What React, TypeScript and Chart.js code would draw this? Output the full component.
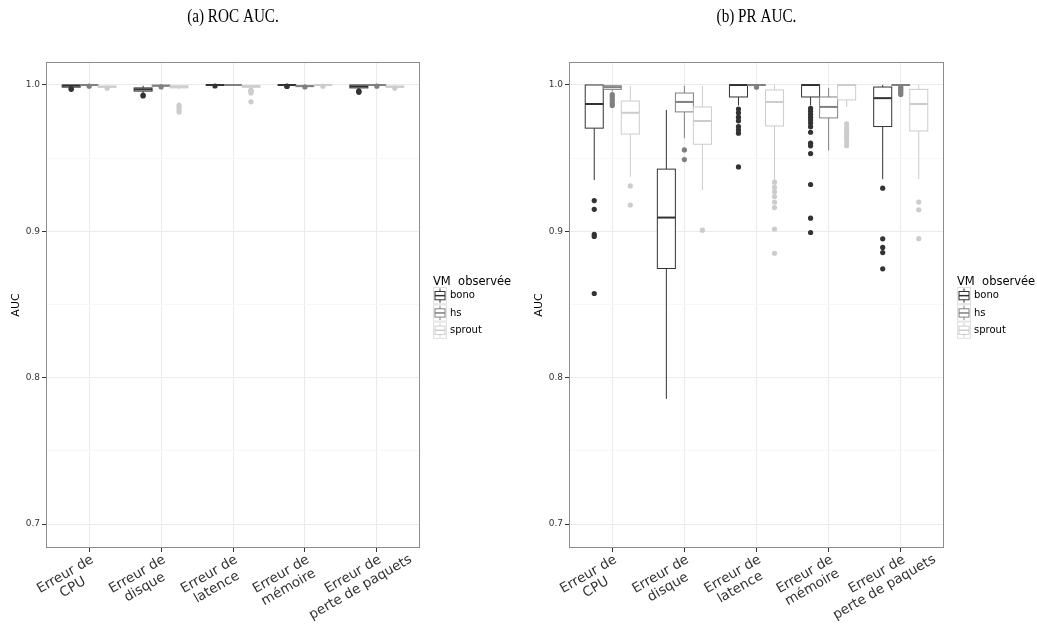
import React, { useEffect, useRef } from "react";
import { Chart, registerables } from "chart.js";
Chart.register(...registerables);

// ---------- data ----------
const categories: string[][] = [
  ["Erreur de", "CPU"],
  ["Erreur de", "disque"],
  ["Erreur de", "latence"],
  ["Erreur de", "mémoire"],
  ["Erreur de", "perte de paquets"],
];
const groups = ["bono", "hs", "sprout"];
const groupColors = ["#333333", "#808080", "#cccccc"];
const groupOffsets = [-0.25, 0, 0.25];
const majorTicks = [0.7, 0.8, 0.9, 1.0];
const minorTicks = [0.75, 0.85, 0.95];
const yMin = 0.6836;
const yMax = 1.0157;

// box stats: [lower whisker, q1, median, q3, upper whisker]
const rocBono = [
  [0.998, 0.9985, 0.9995, 1.0, 1.0],
  [0.994, 0.9958, 0.997, 0.998, 0.9995],
  [0.9995, 0.9998, 1.0, 1.0, 1.0],
  [0.9995, 0.9998, 1.0, 1.0, 1.0],
  [0.997, 0.998, 0.999, 1.0, 1.0],
];
const rocBonoOut = [[0.9975, 0.997], [0.993, 0.9925], [0.9993], [0.9992, 0.999], [0.996, 0.9955, 0.995]];
const rocHs = [
  [0.9995, 0.9998, 1.0, 1.0, 1.0],
  [0.999, 0.9993, 0.9995, 0.9998, 1.0],
  [1.0, 1.0, 1.0, 1.0, 1.0],
  [0.9985, 0.999, 0.9992, 0.9995, 0.9998],
  [0.9995, 0.9998, 1.0, 1.0, 1.0],
];
const rocHsOut = [[0.9992], [0.9987], [], [0.9987], [0.9992]];
const rocSprout = [
  [0.998, 0.9985, 0.9988, 0.9992, 0.9995],
  [0.997, 0.998, 0.9988, 0.9993, 1.0],
  [0.998, 0.9985, 0.999, 0.9995, 1.0],
  [0.9995, 0.9998, 1.0, 1.0, 1.0],
  [0.998, 0.9985, 0.9988, 0.9992, 0.9996],
];
const rocSproutOut = [[0.9978], [0.9862, 0.9848, 0.983, 0.9815], [0.9965, 0.996, 0.9955, 0.9945, 0.9885], [0.9992], [0.9978]];

const prBono = [
  [0.935, 0.9705, 0.987, 1.0, 1.0],
  [0.7855, 0.8746, 0.9094, 0.9425, 0.983],
  [0.986, 0.9918, 1.0, 1.0, 1.0],
  [0.986, 0.9918, 1.0, 1.0, 1.0],
  [0.9356, 0.9716, 0.991, 0.9986, 1.0],
];
const prBonoOut = [
  [0.921, 0.915, 0.898, 0.8965, 0.8575],
  [],
  [0.9835, 0.981, 0.978, 0.9755, 0.9716, 0.9693, 0.967, 0.944],
  [0.984, 0.982, 0.98, 0.978, 0.976, 0.974, 0.9715, 0.9677, 0.9602, 0.9584, 0.9531, 0.932, 0.909, 0.8992],
  [0.9295, 0.8949, 0.889, 0.8855, 0.8744],
];
const prHs = [
  [0.9955, 0.997, 0.9985, 0.9995, 1.0],
  [0.9636, 0.9816, 0.9884, 0.9945, 0.9995],
  [0.9995, 0.9998, 1.0, 1.0, 1.0],
  [0.9552, 0.9775, 0.985, 0.9918, 0.998],
  [0.9995, 0.9998, 1.0, 1.0, 1.0],
];
const prHsOut = [
  [0.9935, 0.992, 0.9905, 0.989, 0.9875, 0.986],
  [0.9556, 0.949],
  [0.9985],
  [],
  [0.9985, 0.9975, 0.9965, 0.9955, 0.9945, 0.9935],
];
const prSprout = [
  [0.9374, 0.9665, 0.981, 0.989, 0.9995],
  [0.9283, 0.9595, 0.9754, 0.985, 0.9995],
  [0.935, 0.972, 0.9884, 0.9966, 1.0],
  [0.985, 0.9898, 1.0, 1.0, 1.0],
  [0.9356, 0.9686, 0.987, 0.997, 1.0],
];
const prSproutOut = [
  [0.931, 0.918],
  [0.9008],
  [0.9336, 0.93, 0.927, 0.9238, 0.92, 0.9162, 0.9015, 0.885],
  [0.9735, 0.971, 0.969, 0.967, 0.965, 0.963, 0.961, 0.9585],
  [0.92, 0.9147, 0.895],
];

Chart.defaults.font.family = "'DejaVu Sans', sans-serif";

type PanelCfg = {
  title: string;
  boxes: number[][][];
  outs: number[][][];
  width: number;
  padRight: number;
};

function makePlugin(cfg: PanelCfg) {
  return {
    id: "boxplotPanel",
    beforeDatasetsDraw(chart: any) {
      const { ctx, scales } = chart;
      const x = scales.x;
      const y = scales.y;
      const halfW = x.getPixelForValue(0.125) - x.getPixelForValue(0);
      ctx.save();
      cfg.boxes.forEach((grp, g) => {
        grp.forEach((st, i) => {
          const [wl, q1, md, q3, wh] = st;
          const cx = x.getPixelForValue(i + 1 + groupOffsets[g]);
          ctx.strokeStyle = groupColors[g];
          ctx.lineWidth = 1;
          ctx.beginPath();
          ctx.moveTo(cx, y.getPixelForValue(wh));
          ctx.lineTo(cx, y.getPixelForValue(q3));
          ctx.moveTo(cx, y.getPixelForValue(q1));
          ctx.lineTo(cx, y.getPixelForValue(wl));
          ctx.stroke();
          const top = y.getPixelForValue(q3);
          const bot = y.getPixelForValue(q1);
          ctx.fillStyle = "#ffffff";
          ctx.fillRect(cx - halfW, top, 2 * halfW, bot - top);
          ctx.strokeRect(cx - halfW, top, 2 * halfW, bot - top);
          ctx.lineWidth = 2;
          ctx.beginPath();
          ctx.moveTo(cx - halfW, y.getPixelForValue(md));
          ctx.lineTo(cx + halfW, y.getPixelForValue(md));
          ctx.stroke();
        });
      });
      ctx.restore();
    },
    afterDraw(chart: any) {
      const { ctx, chartArea, scales } = chart;
      const x = scales.x;
      ctx.save();
      // panel border
      ctx.strokeStyle = "#8c8c8c";
      ctx.lineWidth = 1;
      ctx.strokeRect(chartArea.left + 0.5, chartArea.top + 0.5, chartArea.right - chartArea.left - 1, chartArea.bottom - chartArea.top - 1);
      // title
      ctx.save();
      ctx.fillStyle = "#000";
      ctx.font = "19px 'Liberation Serif', serif";
      ctx.textAlign = "center";
      ctx.textBaseline = "middle";
      ctx.translate((chartArea.left + chartArea.right) / 2, 17);
      ctx.scale(0.8, 1);
      ctx.fillText(cfg.title, 0, 0);
      ctx.restore();
      // y axis title
      ctx.save();
      ctx.fillStyle = "#000";
      ctx.textAlign = "center";
      ctx.textBaseline = "middle";
      ctx.translate(16, (chartArea.top + chartArea.bottom) / 2);
      ctx.rotate(-Math.PI / 2);
      ctx.font = "11px 'DejaVu Sans'";
      ctx.fillText("AUC", 0, 0);
      ctx.restore();
      // x labels (first line right-aligned to the tick, following lines centred on it)
      ctx.font = "13.5px 'DejaVu Sans'";
      ctx.fillStyle = "#333333";
      categories.forEach((lines, i) => {
        const px = x.getPixelForValue(i + 1);
        const w = ctx.measureText(lines[0]).width;
        ctx.save();
        ctx.translate(px, chartArea.bottom + 5);
        ctx.rotate(-Math.PI / 6);
        ctx.textAlign = "center";
        ctx.textBaseline = "top";
        lines.forEach((l, j) => ctx.fillText(l, -w / 2, j * 15));
        ctx.restore();
      });
      // legend
      const lx = chartArea.right + 13;
      ctx.fillStyle = "#000";
      ctx.textAlign = "left";
      ctx.textBaseline = "middle";
      ctx.font = "11.5px 'DejaVu Sans'";
      ctx.fillText("VM  observée", lx, 282);
      const kh = 17.3;
      const kw = 14;
      groups.forEach((name, g) => {
        const ky = 287 + g * kh;
        ctx.strokeStyle = "#e0e0e0";
        ctx.lineWidth = 1;
        ctx.strokeRect(lx + 0.5, ky + 0.5, kw - 1, kh - 1);
        ctx.strokeStyle = groupColors[g];
        const cx = lx + kw / 2;
        ctx.beginPath();
        ctx.moveTo(cx, ky + 1.5);
        ctx.lineTo(cx, ky + 4.5);
        ctx.moveTo(cx, ky + kh - 4.5);
        ctx.lineTo(cx, ky + kh - 1.5);
        ctx.stroke();
        ctx.strokeRect(lx + 2, ky + 4.5, kw - 4, kh - 9);
        ctx.beginPath();
        ctx.lineWidth = 1.5;
        ctx.moveTo(lx + 2, ky + kh / 2);
        ctx.lineTo(lx + kw - 2, ky + kh / 2);
        ctx.stroke();
        ctx.fillStyle = "#000";
        ctx.font = "10px 'DejaVu Sans'";
        ctx.fillText(name, lx + kw + 3, ky + kh / 2);
      });
      ctx.restore();
    },
  };
}

function buildChart(canvas: HTMLCanvasElement, cfg: PanelCfg) {
  const datasets = groups.map((name, g) => ({
    label: name,
    data: cfg.outs[g].flatMap((vals, i) => vals.map((v) => ({ x: i + 1 + groupOffsets[g], y: v }))),
    pointRadius: 2.6,
    pointBorderWidth: 0,
    pointBackgroundColor: groupColors[g],
    backgroundColor: groupColors[g],
    borderColor: groupColors[g],
  }));
  return new Chart(canvas, {
    type: "scatter",
    data: { datasets },
    options: {
      animation: false,
      responsive: false,
      maintainAspectRatio: false,
      events: [],
      layout: { padding: { left: 0, right: cfg.padRight, top: 62, bottom: 0 } },
      plugins: { legend: { display: false }, tooltip: { enabled: false } },
      scales: {
        x: {
          type: "linear",
          min: 0.4,
          max: 5.6,
          afterBuildTicks: (s: any) => {
            s.ticks = [1, 2, 3, 4, 5].map((v) => ({ value: v }));
          },
          afterFit: (s: any) => {
            s.height = 80;
          },
          ticks: { display: false },
          grid: { color: "#ebebeb", tickColor: "#333333", tickLength: 4, drawTicks: true },
          border: { display: false },
        },
        y: {
          type: "linear",
          min: yMin,
          max: yMax,
          afterBuildTicks: (s: any) => {
            s.ticks = [...majorTicks, ...minorTicks].sort((a, b) => a - b).map((v) => ({ value: v }));
          },
          afterFit: (s: any) => {
            s.width = 46;
          },
          ticks: {
            padding: 2,
            color: "#333333",
            font: { size: 9, family: "'DejaVu Sans'" },
            callback: (v: any) => (majorTicks.some((m) => Math.abs(m - v) < 1e-9) ? Number(v).toFixed(1) : ""),
          },
          grid: {
            color: (c: any) => (c.tick && majorTicks.some((m) => Math.abs(m - c.tick.value) < 1e-9) ? "#ebebeb" : "#f7f7f7"),
            tickColor: (c: any) => (c.tick && majorTicks.some((m) => Math.abs(m - c.tick.value) < 1e-9) ? "#333333" : "rgba(0,0,0,0)"),
            tickLength: 4,
            drawTicks: true,
          },
          border: { display: false },
        },
      },
    } as any,
    plugins: [makePlugin(cfg) as any],
  });
}

function Panel({ cfg, left }: { cfg: PanelCfg; left: number }) {
  const ref = useRef<HTMLCanvasElement>(null);
  useEffect(() => {
    if (!ref.current) return;
    const ch = buildChart(ref.current, cfg);
    return () => ch.destroy();
  }, []);
  return (
    <canvas
      ref={ref}
      width={cfg.width}
      height={628}
      style={{ position: "absolute", left, top: 0, width: cfg.width, height: 628 }}
    />
  );
}

export default function App() {
  const rocCfg: PanelCfg = {
    title: "(a) ROC AUC.",
    boxes: [rocBono, rocHs, rocSprout],
    outs: [rocBonoOut, rocHsOut, rocSproutOut],
    width: 518,
    padRight: 98,
  };
  const prCfg: PanelCfg = {
    title: "(b) PR AUC.",
    boxes: [prBono, prHs, prSprout],
    outs: [prBonoOut, prHsOut, prSproutOut],
    width: 514,
    padRight: 93,
  };
  return (
    <div style={{ position: "absolute", left: 0, top: 0, width: 1037, height: 628, background: "#fff", overflow: "hidden" }}>
      <Panel cfg={rocCfg} left={0} />
      <Panel cfg={prCfg} left={523} />
    </div>
  );
}
